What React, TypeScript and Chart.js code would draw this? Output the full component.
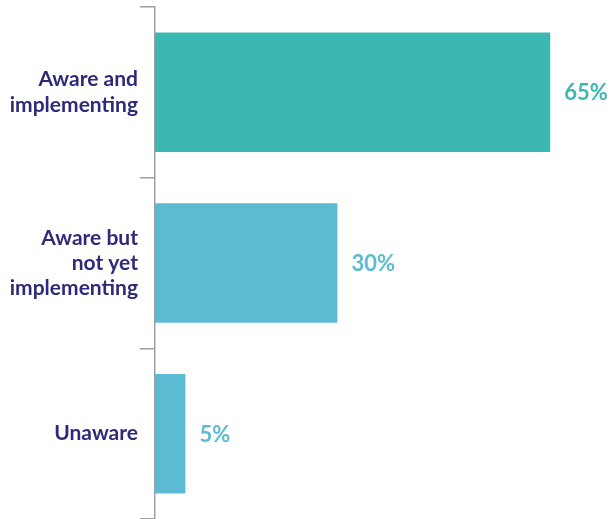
import React, { useEffect, useRef } from "react";
import { Chart, registerables } from "chart.js";

Chart.register(...registerables);

const categories: string[][] = [
  ["Aware and", "implementing"],
  ["Aware but", "not yet", "implementing"],
  ["Unaware"],
];
const values: number[] = [65, 30, 5];
const barColors: string[] = ["#3db7b2", "#5cbbd2", "#5cbbd2"];
const labelColor = "#2e2a78";
const axisColor = "#9aa1a7";
const FONT = "Lato, 'Noto Sans', sans-serif";

const valueLabels = {
  id: "valueLabels",
  afterDatasetsDraw(chart: any) {
    const ctx = chart.ctx;
    const meta = chart.getDatasetMeta(0);
    ctx.save();
    ctx.font = `bold 22px ${FONT}`;
    ctx.textBaseline = "middle";
    ctx.textAlign = "left";
    meta.data.forEach((bar: any, i: number) => {
      ctx.fillStyle = barColors[i];
      ctx.fillText(`${values[i]}%`, bar.x + 14, bar.y + 1);
    });
    ctx.restore();
  },
};

export default function App() {
  const ref = useRef<HTMLCanvasElement | null>(null);
  useEffect(() => {
    document.body.style.margin = "0";
    const chart = new Chart(ref.current!, {
      type: "bar",
      data: {
        labels: categories,
        datasets: [
          {
            data: values,
            backgroundColor: barColors,
            barPercentage: 0.7,
            categoryPercentage: 1,
          },
        ],
      },
      options: {
        indexAxis: "y",
        animation: false,
        responsive: false,
        layout: { padding: { top: 7, right: 0, bottom: 0, left: 0 } },
        plugins: { legend: { display: false }, tooltip: { enabled: false } },
        scales: {
          x: { display: false, min: 0, max: 75 },
          y: {
            afterFit: (scale: any) => {
              scale.width = 155;
              scale.paddingTop = 0;
              scale.paddingBottom = 0;
            },
            border: { display: true, color: axisColor, width: 1.5 },
            grid: {
              offset: true,
              drawOnChartArea: false,
              drawTicks: true,
              tickLength: 15,
              color: axisColor,
              lineWidth: 1.5,
            },
            ticks: {
              padding: 2,
              color: labelColor,
              font: { family: FONT, size: 21, weight: "bold", lineHeight: 1.2 },
            },
          },
        },
      },
      plugins: [valueLabels],
    });
    return () => chart.destroy();
  }, []);
  return (
    <div style={{ width: 611, height: 519 }}>
      <canvas ref={ref} width={611} height={519} style={{ display: "block" }} />
    </div>
  );
}
